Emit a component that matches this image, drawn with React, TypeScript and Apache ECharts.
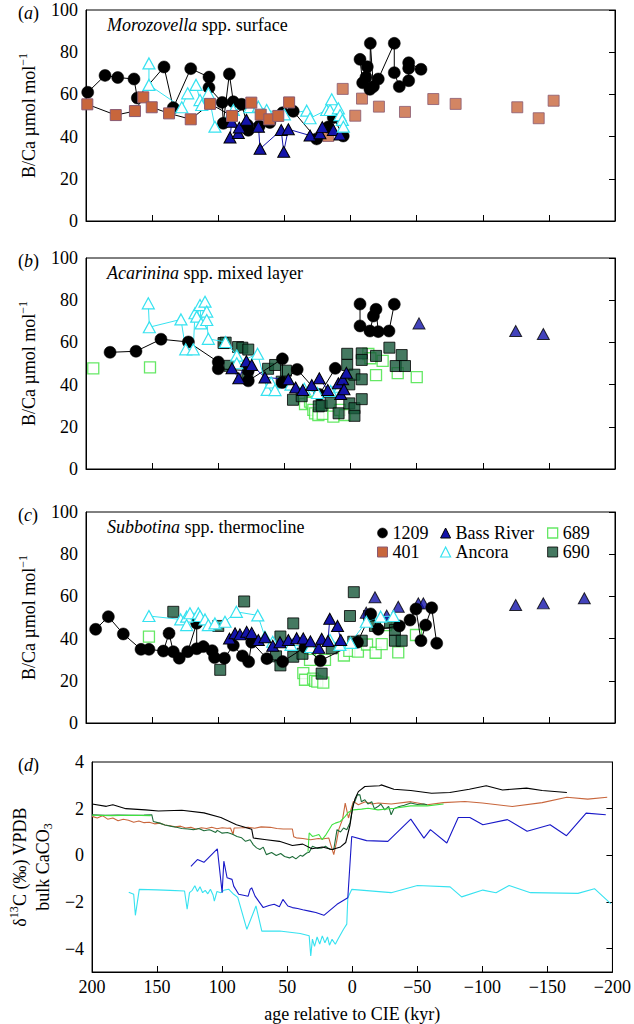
import React, { useEffect, useRef } from "react";
import * as echarts from "echarts";

const FONT = "Liberation Serif";

// ---------- Panel (a) Morozovella ----------
const a1209Pre = [[198.7,61],[185.6,69],[176,68],[163.7,67.3],[161.2,58.3],[141,73],[134,53.7],[120.8,72.2],[107,68.2],[107,63.2],[97,56.2],[96.2,46.3],[91.6,69.7],[88.6,56.5],[82.3,55.3],[78,45.5],[77.3,43],[69,45],[61,46.7],[51.3,51.3],[43.3,52],[25.6,38.9],[17,44.5],[13,49],[5.5,40.3]];
const a1209Post = [[-7.2,76.6],[-9.2,65.5],[-11.7,68.1],[-12.7,73.1],[-14.7,62.4],[-15,84.2],[-17.3,63.7],[-21,67.3],[-33.1,84.2],[-33.1,70.3],[-36.9,63.7],[-44,66.5],[-44,72.4],[-44,75],[-53.3,71.9]];
const a401Line = [[199,55.3],[177.5,50.2],[163,52.1],[156.7,58.6],[150.3,53.9],[137.2,51],[120.8,48.2],[106.2,55.5],[89.6,49.8],[75,56.1],[67.9,50.4],[61.4,48.2],[54.6,49.8],[46.4,56.2]];
const a401Pts = [[16.8,40.3],[5.9,62.6],[-3.6,49.9],[-8.7,58],[-21.5,54.2],[-41.2,51.7],[-62.6,57.8],[-79.5,55.5],[-126.1,53.9],[-142.3,48.7],[-153.6,57]];
const aBassRiver = [[91.1,39.6],[89.8,47],[84.8,41.7],[84.1,44.3],[78.7,48],[69.6,44.7],[68.4,34.2],[52.4,43.1],[50.5,32.8],[47,43.5],[30.6,40.5],[23.1,41.6],[21.3,44.5],[13,43.1],[8,41]];
const aAncora = [[152.4,74.7],[152.4,64.5],[127.6,53.9],[123.1,60.5],[116.8,64.5],[113.8,57.3],[112.5,55],[107.5,60.5],[102.5,44.7],[88.6,52.6],[76,54],[69.7,54.2],[63.4,52.6],[50,50.5],[33.1,52.3],[30.6,48.7],[18,52.6],[15.5,52.6],[14.2,57.7],[9.2,53.4],[7.9,50.2],[6.2,47.9],[5.4,44.7]];

// ---------- Panel (b) Acarinina ----------
const b1209Pre = [[181.8,55.3],[162.2,55.8],[143.3,61.5],[122.6,60.2],[100,50.7],[100,47.5],[77.3,46.6],[77.3,41.8],[51.5,52.2],[51.5,41],[40.3,47.2],[23.5,35.3],[11.5,47.7]];
const b1209Post = [[-7.2,78.2],[-7.2,67.8],[-14.7,65.4],[-17.3,72.5],[-19.3,75.7],[-21,65.1],[-29.1,65.4],[-33.1,78.1]];
const bBassRiverLine = [[89.6,47.7],[84.5,43],[78.7,51.1],[74.7,49.3],[64.7,43.4],[47,42.5],[41.5,38.6],[36.1,37.4],[29.3,39.8],[23.6,43],[17.2,37.4],[9.2,40.6],[7.4,35.5],[5.9,42.5],[4.9,37.8],[3.1,45.6]];
const bBassRiverPts = [[-51.8,69],[-124.9,65.4],[-145.8,64]];
const bAncora = [[152.9,78.5],[152.1,67.2],[128.2,70.9],[124.6,56.7],[118.9,56.7],[117.6,73.8],[116.3,72.2],[113.8,77.7],[113,69],[110,79.3],[108.7,74.6],[108.7,70.6],[107.5,61.7],[94.5,60.2],[86,53.8],[86,50.1],[70.3,54.6],[63,37.5],[60,41],[57.1,37.4],[45,40],[35,38],[25,36],[15,37],[8,39]];
const b689 = [[194.5,47.7],[151.6,48.2],[34.4,30.8],[30.6,31.9],[29.3,31.4],[28.1,28],[26.8,26.4],[24.3,25.6],[21,26.1],[13,24.8],[8,28],[4.2,25.6],[-13.5,54.5],[-15,52.5],[-19.3,44.5],[-24.3,51.2],[-35.7,45.4],[-50.1,43.5]];
const b690 = [[96,59.7],[94.4,59.9],[91.6,48.9],[85,57.8],[81.8,57.5],[77.3,56.6],[78,43.3],[62.3,47.5],[57,49.3],[52,41.4],[48.8,46.6],[43.5,32.8],[36.9,34.5],[24,29.7],[21.8,30],[15,31.4],[9,26.4],[2.5,54.6],[2.5,49.3],[0.9,40.1],[0.9,31.1],[-2.9,44.7],[-3,28.8],[-3,25.2],[-8.5,54.8],[-8.5,51.7],[-8.5,42.5],[-8.5,33.1],[-19.3,53.6],[-29.4,57.5],[-34.2,48.8],[-38.7,54],[-41.2,48.8]];

// ---------- Panel (c) Subbotina ----------
const c1209 = [[192.7,44.4],[183.1,50.4],[171.8,42.2],[158.4,34.9],[152.4,34.9],[141.5,34.1],[137.2,42.5],[134,33.8],[129.5,30.7],[123.1,33.8],[116.3,47.3],[116.3,35.2],[111.3,36.2],[104.6,34.3],[102.8,31],[95.3,30.7],[88.6,36.8],[81.7,31.8],[77,29],[74.7,38.3],[63.2,30.5],[51.3,29.1],[34.4,35.9],[22.8,29.5],[-5.3,38.3],[-15.3,51.7],[-21,44.4],[-36.9,46],[-45,48.8],[-49.5,54],[-53.3,39],[-56.8,46.4],[-61.4,54.6],[-65.2,37.8]];
const cBassRiverLine = [[91.5,40],[87.3,42.5],[83.6,42],[78.5,43.2],[74.7,42.7],[69.7,39.3],[64.7,40.6],[58.8,36.6],[53.3,38.3],[47,39.3],[40.7,40.2],[35.7,40.1],[30.3,38.7],[24,35.6],[21.8,39.9],[17,38.9],[15.7,49.4],[9.8,46],[7.4,39.3]];
const cBassRiverPts = [[-11.9,52.3],[-18.5,59.6],[-27.4,50.9],[-36.1,55.1],[-51.3,56.7],[-55.1,56.7],[-124.9,55.9],[-145.8,56.7],[-176.8,59.1]];
const cAncora = [[152.4,50.7],[128.4,49.1],[123.9,50.4],[123.9,46.4],[121.4,52],[115.1,52],[113.8,50.7],[110,49.1],[107.5,46.4],[102.5,47.2],[94.9,48],[86.3,52.7],[70.1,51],[64.7,40.9],[58.8,38.5],[45,37],[30,36],[15.5,39.3],[8,37],[0,38],[-12,48],[-22.8,50.4],[-32.4,50.7]];
const c689 = [[152.4,40.9],[35.7,23.6],[34.4,20.5],[30.6,29.9],[28.3,21],[26.8,20],[25.1,19.6],[20.6,19.1],[19.3,29.9],[5,32],[0.9,34.2],[-5.6,33.8],[-12.5,37.2],[-19,33.3],[-23.6,37.4],[-26.8,46.4],[-36.1,33.5],[-49.5,41.7]];
const c690 = [[134,52.7],[100,46],[98.5,25.2],[80.4,57.6],[56.3,31.6],[53,41],[53,27.3],[43.3,47.2],[43.3,31.4],[36.3,32.8],[21.8,23.4],[14.2,35.4],[0.4,50.7],[-2.1,38.5],[-2.5,62],[-8.5,39],[-14,50.7],[-18.5,46],[-29.9,47.5],[-33.6,44.1],[-33.6,39],[-38.7,39]];

// ---------- Panel (d) bulk carbonate d13C ----------
const d1209 = [[200,2.2],[189,2.1],[184,2.17],[174,2.0],[159,1.95],[149,1.9],[131,1.93],[114,1.82],[101,1.62],[89,1.31],[77.3,1.12],[76,0.74],[66,0.67],[56,0.6],[46,0.42],[38,0.48],[31,0.28],[23,0.36],[15.5,0.25],[9,0.36],[5,0.55],[1.7,1.3],[-0.2,2.0],[-2,2.4],[-4.7,2.73],[-9.7,2.95],[-21,2.98],[-22.3,3.02],[-32,2.83],[-45,2.78],[-61,2.66],[-75,2.69],[-90,2.83],[-103,2.98],[-115.5,2.8],[-134,2.88],[-146,2.78],[-165,2.69]];
const d401 = [[200,1.67],[196,1.6],[192,1.7],[188,1.55],[184,1.6],[180,1.48],[176,1.55],[172,1.5],[168,1.42],[164,1.47],[160,1.4],[156,1.42],[152,1.35],[148,1.38],[144,1.3],[140,1.27],[136,1.22],[132,1.25],[128,1.17],[124,1.2],[120,1.12],[116,1.18],[112,1.15],[108,1.2],[104,1.14],[100,1.18],[96,1.16],[93.6,1.17],[91.6,0.89],[90.8,1.17],[85,1.18],[80,1.2],[75,1.16],[70,1.22],[63,1.2],[58,1.15],[53,1.13],[46,1.13],[45,0.8],[43,0.75],[38,0.72],[32,0.67],[26,0.72],[23,0.7],[18,0.74],[14.2,0.03],[12,0.6],[10.4,1.1],[7.4,1.55],[5.4,2.24],[2.9,1.6],[-0.9,2.31],[-4.7,2.17],[-10,2.3],[-15,2.2],[-20,2.24],[-30,2.2],[-45,2.3],[-57.6,2.17],[-70,2.26],[-86.6,2.31],[-100,2.24],[-123,2.09],[-146,2.26],[-165,2.49],[-181,2.41],[-196,2.49]];
const d690 = [[200,1.74],[190,1.72],[180,1.73],[170,1.72],[160,1.73],[154.1,1.74],[152.9,1.45],[148,1.38],[144,1.3],[139,1.24],[135,1.2],[131,1.15],[126.4,1.13],[122,1.1],[118,1.15],[114,1.05],[110,1.1],[108.7,1.07],[105,0.98],[103.7,1.07],[100,0.95],[96,0.98],[92,0.9],[88.6,0.81],[85,0.75],[82,0.6],[78.5,0.67],[76,0.45],[73.5,0.32],[71,0.25],[68.4,0.35],[66,0.03],[62,0.12],[58.4,-0.01],[55,0.08],[52,-0.05],[48.2,-0.11],[46,-0.05],[43.3,-0.15],[40,0.0],[38.2,-0.04],[35,0.1],[33.1,0.13],[30.6,0.39],[27,0.3],[23.1,0.32],[20.6,0.39],[17,0.25],[14.2,0.25],[11.7,1.1],[9,1.0],[6.7,1.17],[4.2,1.1],[1.7,1.4],[-0.9,2.24],[-2.1,2.31],[-4,2.6],[-5.9,2.59],[-7,2.3],[-9.7,2.38],[-12,2.2],[-15,2.3],[-17,2.0],[-19.8,2.09],[-22,2.2],[-25,1.95],[-28,2.1],[-29.9,1.74],[-32,2.0],[-36.1,2.09],[-40,2.15],[-45,2.24],[-50,2.18],[-55,2.2],[-57.6,2.17]];
const d689a = [[200,1.72],[185,1.7],[170,1.72],[155,1.7]];
const d689b = [[34,0.15],[33.1,0.96],[30.6,0.81],[28,0.85],[25.6,0.89],[23.1,0.67],[20,0.9],[15.5,1.31],[13,1.38],[9.2,1.45],[5.4,1.67],[2.9,1.85],[-0.9,1.95],[-7.2,1.98],[-12.2,2.02],[-19.8,1.95],[-32.4,2.02],[-45,2.12],[-57.6,2.12],[-70.2,2.2]];
const dBassRiver = [[124,-0.47],[119,-0.18],[114,-0.3],[103.7,0.28],[100,-1.6],[98.7,-0.25],[96.2,-0.96],[92.4,-1.03],[91.1,-1.32],[87.3,-1.67],[80,-1.75],[78.5,-1.46],[77.3,-1.39],[74.7,-1.75],[68.4,-2.24],[64,-2.15],[60,-2.1],[56,-2.2],[53.3,-1.89],[49.5,-2.17],[46,-2.24],[42,-2.28],[38,-2.33],[33,-2.39],[28,-2.45],[21.8,-2.57],[11.7,-2.1],[3.4,-1.82],[0.4,0.81],[-11,0.63],[-27.4,0.6],[-45,1.55],[-55.1,0.74],[-60.1,1.1],[-72.7,0.53],[-81.5,1.62],[-90.4,1.62],[-100.4,1.31],[-119.3,1.53],[-134.4,1.03],[-152.1,1.31],[-164.7,0.84],[-179.8,1.81],[-194.9,1.74]];
const dAncora = [[171.8,-1.58],[168,-1.67],[166.7,-2.57],[163.7,-1.46],[150,-1.48],[140,-1.5],[128.9,-1.53],[126.9,-2.31],[125.1,-1.6],[123,-1.5],[121,-1.3],[119,-1.55],[117,-1.35],[115,-1.6],[113,-1.5],[111,-1.65],[109,-1.45],[107,-1.7],[106,-1.96],[104,-1.55],[101,-1.6],[98.7,-1.5],[95,-1.45],[91.1,-1.67],[88,-1.8],[81,-3.17],[74,-2.17],[69.5,-3.25],[55.8,-3.24],[40,-3.35],[33.1,-3.45],[31.9,-4.31],[30.6,-3.59],[29,-3.9],[27,-3.5],[25,-3.8],[23,-3.45],[21,-3.75],[19,-3.5],[17.5,-3.85],[15.5,-3.6],[13,-3.81],[11,-3.6],[8,-3.3],[6.7,-3.17],[4.2,-2.95],[3.4,-1.82],[0.4,-1.46],[-29.9,-1.6],[-50.1,-1.29],[-75.2,-1.35],[-84.1,-1.78],[-100.4,-1.49],[-110.5,-1.6],[-120.6,-1.29],[-137,-1.6],[-173.5,-1.63],[-186.2,-1.43],[-198.7,-2.07]];

// ---------- Axis ticks / labels ----------
const xTicks = [200, 150, 100, 50, 0, -50, -100, -150, -200];
const bcaTicks = [0, 20, 40, 60, 80, 100];
const d13Ticks = [-4, -2, 0, 2, 4];
const panelLetters = ["a", "b", "c", "d"];
const panelTitles = [
  ["Morozovella", " spp. surface"],
  ["Acarinina", " spp. mixed layer"],
  ["Subbotina", " spp. thermocline"],
];

const GRID_TOPS = [10, 258, 512, 762];
const GRID_H = 211;
const GRID_LEFT = 86;
const GRID_W = 529;

const C = {
  black: "#000000",
  orange: "#c8663c",
  orangeBorder: "#8a5a72",
  blue: "#1414aa",
  cyan: "#36e2f0",
  lgreen: "#3fe23f",
  dgreen: "#17573a",
  dBlue: "#1818c8",
  dGreen: "#1f6d3a",
};

const STY: any = {
  "1209": { symbol: "circle", size: 12, item: { color: C.black, borderColor: C.black, borderWidth: 0.5 }, line: C.black },
  "401": { symbol: "rect", size: 11, item: { color: C.orange, borderColor: C.orangeBorder, borderWidth: 1 }, line: C.black },
  "Bass River": { symbol: "triangle", size: [12, 11], item: { color: C.blue, borderColor: C.black, borderWidth: 1 }, line: C.blue },
  Ancora: { symbol: "triangle", size: [12, 11], item: { color: "#ffffff", borderColor: C.cyan, borderWidth: 1.2 }, line: C.cyan },
  "689": { symbol: "rect", size: 11, item: { color: "#ffffff", borderColor: C.lgreen, borderWidth: 1.3 }, line: C.lgreen },
  "690": { symbol: "rect", size: 11, item: { color: C.dgreen, borderColor: C.black, borderWidth: 1 }, line: C.black },
};

function pts(name: string, data: number[][], grid: number, withLine: boolean) {
  const s = STY[name];
  return {
    type: withLine ? "line" : "scatter",
    name,
    data,
    xAxisIndex: grid,
    yAxisIndex: grid * 2,
    symbol: s.symbol,
    symbolSize: s.size,
    showSymbol: true,
    showAllSymbol: true,
    itemStyle: s.item,
    lineStyle: { color: s.line, width: 1 },
    emphasis: { disabled: true },
    silent: true,
  };
}

function curve(name: string, data: number[][], color: string) {
  return {
    type: "line",
    name,
    data,
    xAxisIndex: 3,
    yAxisIndex: 6,
    symbol: "none",
    lineStyle: { color, width: 1.1 },
    itemStyle: { color },
    emphasis: { disabled: true },
    silent: true,
  };
}

const fmtNum = (v: number) => (v < 0 ? "\u2212" + Math.abs(v) : String(v));

export default function App() {
  const ref = useRef<HTMLDivElement>(null);
  useEffect(() => {
    if (!ref.current) return;
    const chart = echarts.init(ref.current, null, { renderer: "svg" });

    const grids = GRID_TOPS.map((t) => ({
      left: GRID_LEFT,
      top: t,
      width: GRID_W,
      height: GRID_H,
      show: true,
      borderColor: "#000",
      borderWidth: 1,
      containLabel: false,
    }));

    const xAxes = GRID_TOPS.map((_, i) => ({
      type: "value",
      gridIndex: i,
      min: xTicks[xTicks.length - 1],
      max: xTicks[0],
      interval: 50,
      inverse: true,
      axisLine: { show: true, onZero: false, lineStyle: { color: "#000", width: 1 } },
      axisTick: { show: true, inside: true, length: 6, lineStyle: { color: "#000", width: 1 } },
      axisLabel: {
        show: i === 3,
        fontFamily: FONT,
        fontSize: 18,
        color: "#000",
        margin: 6,
        formatter: fmtNum,
      },
      splitLine: { show: false },
      name: i === 3 ? "age relative to CIE (kyr)" : "",
      nameLocation: "middle",
      nameGap: 33,
      nameTextStyle: { fontFamily: FONT, fontSize: 18, color: "#000" },
    }));

    const yAxes: any[] = [];
    for (let i = 0; i < 4; i++) {
      const isD = i === 3;
      const ticks = isD ? d13Ticks : bcaTicks;
      yAxes.push({
        type: "value",
        gridIndex: i,
        position: "left",
        min: isD ? -5 : bcaTicks[0],
        max: isD ? 4 : bcaTicks[bcaTicks.length - 1],
        interval: isD ? undefined : 20,
        axisLine: { show: true, onZero: false, lineStyle: { color: "#000", width: 1 } },
        axisTick: { show: false },
        axisLabel: {
          show: true,
          fontFamily: FONT,
          fontSize: 18,
          color: "#000",
          margin: 8,
          formatter: fmtNum,
          ...(isD ? { customValues: ticks } : {}),
        },
        splitLine: { show: false },
        name: isD
          ? "\u03b4{sup|13}C (\u2030) VPDB\nbulk CaCO{sub|3}"
          : "B/Ca \u00b5mol mol{sup|\u22121}",
        nameLocation: "middle",
        nameRotate: 90,
        nameGap: isD ? 36 : 38,
        nameTextStyle: {
          fontFamily: FONT,
          fontSize: 18,
          color: "#000",
          lineHeight: 23,
          rich: {
            sup: { fontFamily: FONT, fontSize: 12, color: "#000", verticalAlign: "top", lineHeight: 23 },
            sub: { fontFamily: FONT, fontSize: 12, color: "#000", verticalAlign: "bottom", lineHeight: 23 },
          },
        },
      });
      yAxes.push({
        type: "value",
        gridIndex: i,
        position: "right",
        min: isD ? -5 : bcaTicks[0],
        max: isD ? 4 : bcaTicks[bcaTicks.length - 1],
        interval: isD ? undefined : 20,
        axisLine: { show: true, onZero: false, lineStyle: { color: "#000", width: 1 } },
        axisTick: {
          show: true,
          inside: true,
          length: 6,
          lineStyle: { color: "#000", width: 1 },
          ...(isD ? { customValues: [-4, -2, 0, 2] } : {}),
        },
        axisLabel: { show: false },
        splitLine: { show: false },
      });
    }

    const series: any[] = [
      // (a)
      pts("1209", a1209Pre, 0, true),
      pts("1209", a1209Post, 0, true),
      pts("Bass River", aBassRiver, 0, true),
      pts("Ancora", aAncora, 0, true),
      pts("401", a401Line, 0, true),
      pts("401", a401Pts, 0, false),
      // (b)
      pts("689", b689, 1, false),
      pts("1209", b1209Pre, 1, true),
      pts("1209", b1209Post, 1, true),
      pts("Ancora", bAncora, 1, true),
      pts("690", b690, 1, false),
      pts("Bass River", bBassRiverLine, 1, true),
      pts("Bass River", bBassRiverPts, 1, false),
      // (c)
      pts("689", c689, 2, false),
      pts("690", c690, 2, false),
      pts("1209", c1209, 2, true),
      pts("Ancora", cAncora, 2, true),
      pts("Bass River", cBassRiverLine, 2, true),
      pts("Bass River", cBassRiverPts, 2, false),
      // (d)
      curve("Ancora \u03b413C", dAncora, C.cyan),
      curve("Bass River \u03b413C", dBassRiver, C.dBlue),
      curve("401 \u03b413C", d401, C.orange),
      curve("690 \u03b413C", d690, C.dGreen),
      curve("689 \u03b413C a", d689a, C.lgreen),
      curve("689 \u03b413C b", d689b, C.lgreen),
      curve("1209 \u03b413C", d1209, C.black),
    ];

    const legendBase = {
      orient: "vertical",
      top: 524,
      itemWidth: 10,
      itemHeight: 10,
      itemGap: 1,
      selectedMode: false,
      textStyle: { fontFamily: FONT, fontSize: 18, color: "#000" },
      padding: 0,
    };
    const legendItem = (name: string, icon: string) => ({
      name,
      icon,
      itemStyle: { ...STY[name].item },
    });
    const legends = [
      { ...legendBase, left: 377, data: [legendItem("1209", "circle"), legendItem("401", "rect")] },
      { ...legendBase, left: 440, data: [legendItem("Bass River", "triangle"), legendItem("Ancora", "triangle")] },
      { ...legendBase, left: 547, data: [legendItem("689", "rect"), legendItem("690", "rect")] },
    ];

    const graphics: any[] = [];
    panelLetters.forEach((l, i) => {
      graphics.push({
        type: "text",
        x: 18,
        y: GRID_TOPS[i] + 3,
        style: {
          text: "({i|" + l + "})",
          rich: { i: { fontFamily: FONT, fontSize: 18, fontStyle: "italic", fill: "#000" } },
          fontFamily: FONT,
          fontSize: 18,
          fill: "#000",
          verticalAlign: "middle",
        },
      });
    });
    panelTitles.forEach((t, i) => {
      graphics.push({
        type: "text",
        x: 107,
        y: GRID_TOPS[i] + 15,
        style: {
          text: "{i|" + t[0] + "}" + t[1],
          rich: { i: { fontFamily: FONT, fontSize: 18, fontStyle: "italic", fill: "#000" } },
          fontFamily: FONT,
          fontSize: 18,
          fill: "#000",
          verticalAlign: "middle",
        },
      });
    });

    chart.setOption({
      animation: false,
      backgroundColor: "#ffffff",
      textStyle: { fontFamily: FONT },
      grid: grids,
      xAxis: xAxes,
      yAxis: yAxes,
      legend: legends,
      series,
      graphic: graphics,
    });
    return () => chart.dispose();
  }, []);

  return (
    <div
      ref={ref}
      style={{ position: "fixed", left: 0, top: 0, width: 634, height: 1024, background: "#fff" }}
    />
  );
}
